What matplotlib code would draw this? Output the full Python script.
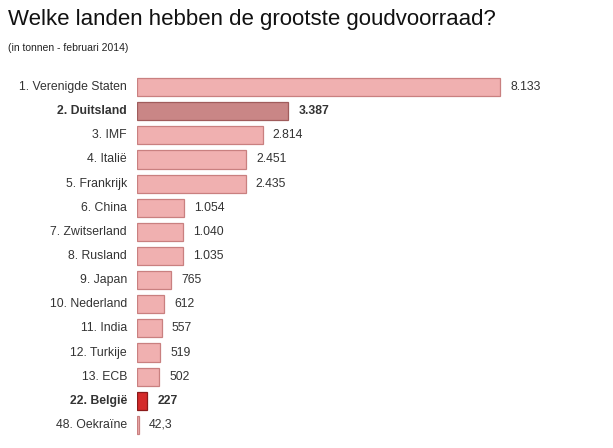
import matplotlib
matplotlib.use("Agg")
from matplotlib import pyplot as plt

plt.rcParams['font.family'] = ['Liberation Sans', 'DejaVu Sans']

labels = ["1. Verenigde Staten", "2. Duitsland", "3. IMF", "4. Italië", "5. Frankrijk",
          "6. China", "7. Zwitserland", "8. Rusland", "9. Japan", "10. Nederland",
          "11. India", "12. Turkije", "13. ECB", "22. België", "48. Oekraïne"]
values = [8133, 3387, 2814, 2451, 2435, 1054, 1040, 1035, 765, 612, 557, 519, 502, 227, 42.3]
value_text = ["8.133", "3.387", "2.814", "2.451", "2.435", "1.054", "1.040", "1.035",
              "765", "612", "557", "519", "502", "227", "42,3"]
bold_rows = ["2. Duitsland", "22. België"]

W, H = 613, 448
fig = plt.figure(figsize=(W / 100, H / 100), dpi=100)
ax = fig.add_axes([137 / W, 1 - 437 / H, 463 / W, 362 / H])

fills, edges = [], []
for lab in labels:
    if lab == "2. Duitsland":
        fills.append("#c98686"); edges.append("#a05c5c")
    elif lab == "22. België":
        fills.append("#d42a2a"); edges.append("#8b1a1a")
    else:
        fills.append("#f0b0b0"); edges.append("#c98080")

ypos = list(range(len(labels)))
ax.barh(ypos, values, height=0.75, color=fills, edgecolor=edges, linewidth=0.9)
ax.set_ylim(len(labels) - 0.5, -0.5)
ax.set_xlim(0, 463 / (363 / 8133))
ax.axis("off")

px = 363 / 8133
for y, lab, v, t in zip(ypos, labels, values, value_text):
    w = "bold" if lab in bold_rows else "normal"
    ax.text(-10 / px, y, lab, ha="right", va="center", fontsize=8.8, color="#333333", fontweight=w)
    ax.text(v + 10 / px, y, t, ha="left", va="center", fontsize=8.8, color="#333333", fontweight=w)

fig.text(8 / W, 1 - 20 / H, "Welke landen hebben de grootste goudvoorraad?",
         fontsize=16, color="#111111", va="center", ha="left")
fig.text(8 / W, 1 - 48 / H, "(in tonnen - februari 2014)",
         fontsize=7.5, color="#222222", va="center", ha="left")

fig.savefig("out.png", dpi=100, facecolor="white")
